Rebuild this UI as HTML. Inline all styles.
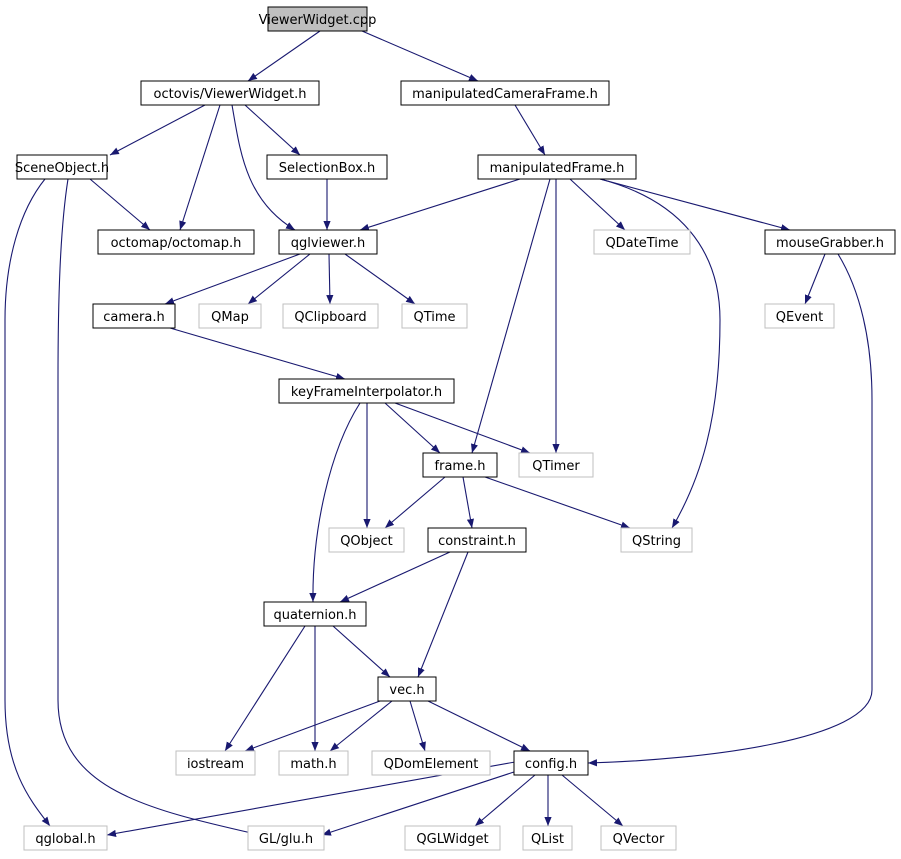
<!DOCTYPE html>
<html><head><meta charset="utf-8"><style>
html,body{margin:0;padding:0;background:#fff;}
svg{display:block;}
text{font-family:"DejaVu Sans","Liberation Sans",sans-serif;font-size:13px;text-anchor:middle;fill:#000;}
</style></head><body>
<svg width="901" height="859" viewBox="0 0 901 859" xmlns="http://www.w3.org/2000/svg">
<defs><marker id="a" viewBox="0 0 10 10" refX="10" refY="5" markerWidth="9" markerHeight="9" markerUnits="userSpaceOnUse" orient="auto"><path d="M0,1 L10,5 L0,9 z" fill="#191970"/></marker></defs>
<g fill="none" stroke="#191970" stroke-width="1.1" marker-end="url(#a)">
<path d="M320,31 L248,81"/>
<path d="M362,31 L478,81"/>
<path d="M205,105 L110,155"/>
<path d="M220,105 L180,230"/>
<path d="M232,105 C240,150 245,200 295,230"/>
<path d="M245,105 L300,155"/>
<path d="M515,105 L545,155"/>
<path d="M90,179 L150,230"/>
<path d="M45,179 C20,210 5,260 5,320 L5,700 C5,770 30,800 50,826"/>
<path d="M68,179 C60,230 58,300 58,380 L58,700 C58,790 150,810 260,835"/>
<path d="M327,179 L327,230"/>
<path d="M520,179 L360,230"/>
<path d="M550,179 L472,453"/>
<path d="M556,179 L556,453"/>
<path d="M570,179 L625,230"/>
<path d="M600,179 C680,200 720,250 720,320 C720,420 700,480 672,528"/>
<path d="M600,179 L790,230"/>
<path d="M300,254 L165,304"/>
<path d="M310,254 L248,304"/>
<path d="M329,254 L330,304"/>
<path d="M345,254 L415,304"/>
<path d="M825,254 L805,304"/>
<path d="M838,254 C860,290 872,340 872,400 L872,690 C872,740 700,760 588,763"/>
<path d="M170,328 L345,379"/>
<path d="M385,403 L440,453"/>
<path d="M395,403 L530,453"/>
<path d="M367,403 L367,528"/>
<path d="M360,403 C330,450 312,530 313,602"/>
<path d="M445,477 L385,528"/>
<path d="M463,477 L472,528"/>
<path d="M485,477 L630,528"/>
<path d="M450,552 L340,602"/>
<path d="M468,552 L418,677"/>
<path d="M333,626 L390,677"/>
<path d="M305,626 L225,751"/>
<path d="M315,626 L315,751"/>
<path d="M380,701 L245,751"/>
<path d="M392,701 L330,751"/>
<path d="M410,701 L425,751"/>
<path d="M428,701 L530,751"/>
<path d="M515,762 L107,835"/>
<path d="M520,770 L322,835"/>
<path d="M535,775 L475,826"/>
<path d="M548,775 L548,826"/>
<path d="M562,775 L623,826"/>
</g>
<g stroke-width="1">
<rect x="268" y="7" width="99" height="24" fill="#bfbfbf" stroke="#000"/><text x="317.5" y="24">ViewerWidget.cpp</text>
<g fill="#fff" stroke="#000">
<rect x="141" y="81" width="178" height="24"/><rect x="401" y="81" width="208" height="24"/>
<rect x="17" y="155" width="90" height="24"/><rect x="267" y="155" width="120" height="24"/>
<rect x="478" y="155" width="158" height="24"/><rect x="98" y="230" width="156" height="24"/>
<rect x="279" y="230" width="98" height="24"/><rect x="765" y="230" width="130" height="24"/>
<rect x="93" y="304" width="82" height="24"/><rect x="279" y="379" width="175" height="24"/>
<rect x="423" y="453" width="74" height="24"/><rect x="428" y="528" width="98" height="24"/>
<rect x="264" y="602" width="102" height="24"/><rect x="378" y="677" width="58" height="24"/>
<rect x="514" y="751" width="74" height="24"/>
</g>
<g fill="#fff" stroke="#bfbfbf">
<rect x="594" y="230" width="96" height="24"/><rect x="199" y="304" width="62" height="24"/>
<rect x="283" y="304" width="95" height="24"/><rect x="402" y="304" width="65" height="24"/>
<rect x="765" y="304" width="69" height="24"/><rect x="519" y="453" width="74" height="24"/>
<rect x="329" y="528" width="75" height="24"/><rect x="621" y="528" width="71" height="24"/>
<rect x="176" y="751" width="79" height="24"/><rect x="279" y="751" width="69" height="24"/>
<rect x="372" y="751" width="118" height="24"/><rect x="24" y="826" width="83" height="24"/>
<rect x="248" y="826" width="76" height="24"/><rect x="405" y="826" width="95" height="24"/>
<rect x="523" y="826" width="49" height="24"/><rect x="601" y="826" width="75" height="24"/>
</g>
</g>
<text x="230" y="98">octovis/ViewerWidget.h</text>
<text x="505" y="98">manipulatedCameraFrame.h</text>
<text x="62" y="172">SceneObject.h</text>
<text x="327" y="172">SelectionBox.h</text>
<text x="557" y="172">manipulatedFrame.h</text>
<text x="176" y="247">octomap/octomap.h</text>
<text x="328" y="247">qglviewer.h</text>
<text x="642" y="247">QDateTime</text>
<text x="830" y="247">mouseGrabber.h</text>
<text x="134" y="321">camera.h</text>
<text x="230" y="321">QMap</text>
<text x="330.5" y="321">QClipboard</text>
<text x="434.5" y="321">QTime</text>
<text x="799.5" y="321">QEvent</text>
<text x="366.5" y="396">keyFrameInterpolator.h</text>
<text x="460" y="470">frame.h</text>
<text x="556" y="470">QTimer</text>
<text x="366.5" y="545">QObject</text>
<text x="477" y="545">constraint.h</text>
<text x="656.5" y="545">QString</text>
<text x="315" y="619">quaternion.h</text>
<text x="407" y="694">vec.h</text>
<text x="215.5" y="768">iostream</text>
<text x="313.5" y="768">math.h</text>
<text x="431" y="768">QDomElement</text>
<text x="551" y="768">config.h</text>
<text x="65.5" y="843">qglobal.h</text>
<text x="286" y="843">GL/glu.h</text>
<text x="452.5" y="843">QGLWidget</text>
<text x="547.5" y="843">QList</text>
<text x="638.5" y="843">QVector</text>
</svg>
</body></html>
